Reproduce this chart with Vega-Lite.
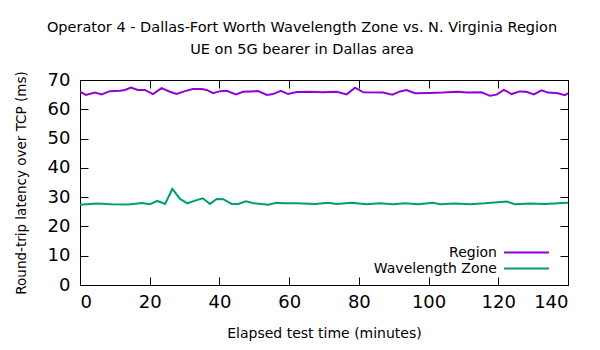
{
  "$schema": "https://vega.github.io/schema/vega-lite/v6.json",
  "autosize": "none",
  "width": 488,
  "height": 205,
  "padding": {"left": 80, "top": 80, "right": 32, "bottom": 65},
  "background": "white",
  "config": {
    "font": "DejaVu Sans",
    "view": {"stroke": "black", "strokeWidth": 1},
    "axis": {"grid": false, "domainColor": "black", "tickColor": "black", "labelColor": "black", "titleColor": "black", "labelFont": "DejaVu Sans", "titleFont": "DejaVu Sans", "titleFontWeight": "normal"}
  },
  "title": {
    "text": ["Operator 4 - Dallas-Fort Worth Wavelength Zone vs. N. Virginia Region", "UE on 5G bearer in Dallas area"],
    "font": "DejaVu Sans",
    "fontSize": 14.5,
    "fontWeight": "normal",
    "color": "black",
    "anchor": "middle",
    "dx": -22,
    "offset": 13,
    "lineHeight": 22
  },
  "data": {
    "values": [
      {"t": 0, "v": 66.0, "s": "Region"},
      {"t": 1.7, "v": 64.9, "s": "Region"},
      {"t": 4.3, "v": 65.7, "s": "Region"},
      {"t": 6.2, "v": 65.1, "s": "Region"},
      {"t": 8.6, "v": 66.2, "s": "Region"},
      {"t": 11.5, "v": 66.3, "s": "Region"},
      {"t": 12.9, "v": 66.6, "s": "Region"},
      {"t": 14.6, "v": 67.4, "s": "Region"},
      {"t": 16.6, "v": 66.6, "s": "Region"},
      {"t": 18.6, "v": 66.6, "s": "Region"},
      {"t": 20.9, "v": 65.2, "s": "Region"},
      {"t": 23.4, "v": 67.2, "s": "Region"},
      {"t": 25.8, "v": 66.0, "s": "Region"},
      {"t": 27.7, "v": 65.2, "s": "Region"},
      {"t": 30.1, "v": 66.2, "s": "Region"},
      {"t": 32.4, "v": 66.9, "s": "Region"},
      {"t": 34.9, "v": 66.9, "s": "Region"},
      {"t": 36.3, "v": 66.6, "s": "Region"},
      {"t": 38.2, "v": 65.5, "s": "Region"},
      {"t": 40.2, "v": 66.2, "s": "Region"},
      {"t": 42.1, "v": 66.3, "s": "Region"},
      {"t": 44.7, "v": 65.1, "s": "Region"},
      {"t": 46.8, "v": 66.0, "s": "Region"},
      {"t": 51.1, "v": 66.2, "s": "Region"},
      {"t": 53.6, "v": 64.9, "s": "Region"},
      {"t": 55.4, "v": 65.2, "s": "Region"},
      {"t": 57.6, "v": 66.3, "s": "Region"},
      {"t": 59.7, "v": 65.2, "s": "Region"},
      {"t": 62.2, "v": 65.9, "s": "Region"},
      {"t": 66.0, "v": 66.0, "s": "Region"},
      {"t": 69.7, "v": 65.8, "s": "Region"},
      {"t": 73.6, "v": 66.0, "s": "Region"},
      {"t": 76.5, "v": 65.1, "s": "Region"},
      {"t": 78.9, "v": 67.4, "s": "Region"},
      {"t": 81.3, "v": 65.8, "s": "Region"},
      {"t": 87.0, "v": 65.7, "s": "Region"},
      {"t": 89.6, "v": 65.0, "s": "Region"},
      {"t": 91.8, "v": 66.1, "s": "Region"},
      {"t": 93.7, "v": 66.6, "s": "Region"},
      {"t": 96.1, "v": 65.5, "s": "Region"},
      {"t": 100.4, "v": 65.6, "s": "Region"},
      {"t": 104.1, "v": 65.7, "s": "Region"},
      {"t": 108.5, "v": 66.0, "s": "Region"},
      {"t": 110.9, "v": 65.7, "s": "Region"},
      {"t": 115.2, "v": 65.8, "s": "Region"},
      {"t": 117.6, "v": 64.6, "s": "Region"},
      {"t": 119.5, "v": 65.0, "s": "Region"},
      {"t": 121.6, "v": 66.6, "s": "Region"},
      {"t": 123.8, "v": 65.2, "s": "Region"},
      {"t": 126.2, "v": 66.1, "s": "Region"},
      {"t": 128.1, "v": 66.0, "s": "Region"},
      {"t": 130.2, "v": 65.1, "s": "Region"},
      {"t": 132.4, "v": 66.5, "s": "Region"},
      {"t": 134.3, "v": 65.7, "s": "Region"},
      {"t": 137.1, "v": 65.5, "s": "Region"},
      {"t": 139.1, "v": 64.8, "s": "Region"},
      {"t": 140, "v": 65.5, "s": "Region"},
      {"t": 0, "v": 27.4, "s": "Wavelength Zone"},
      {"t": 4.8, "v": 27.8, "s": "Wavelength Zone"},
      {"t": 8.9, "v": 27.6, "s": "Wavelength Zone"},
      {"t": 13.8, "v": 27.5, "s": "Wavelength Zone"},
      {"t": 17.7, "v": 28.0, "s": "Wavelength Zone"},
      {"t": 20.1, "v": 27.6, "s": "Wavelength Zone"},
      {"t": 22.2, "v": 28.7, "s": "Wavelength Zone"},
      {"t": 24.4, "v": 27.7, "s": "Wavelength Zone"},
      {"t": 26.5, "v": 32.8, "s": "Wavelength Zone"},
      {"t": 28.7, "v": 29.4, "s": "Wavelength Zone"},
      {"t": 30.8, "v": 27.9, "s": "Wavelength Zone"},
      {"t": 33.0, "v": 28.8, "s": "Wavelength Zone"},
      {"t": 35.2, "v": 29.6, "s": "Wavelength Zone"},
      {"t": 37.3, "v": 27.7, "s": "Wavelength Zone"},
      {"t": 39.2, "v": 29.4, "s": "Wavelength Zone"},
      {"t": 41.1, "v": 29.3, "s": "Wavelength Zone"},
      {"t": 43.5, "v": 27.7, "s": "Wavelength Zone"},
      {"t": 45.4, "v": 27.7, "s": "Wavelength Zone"},
      {"t": 47.6, "v": 28.6, "s": "Wavelength Zone"},
      {"t": 49.7, "v": 27.9, "s": "Wavelength Zone"},
      {"t": 54.0, "v": 27.4, "s": "Wavelength Zone"},
      {"t": 56.4, "v": 28.1, "s": "Wavelength Zone"},
      {"t": 58.3, "v": 27.9, "s": "Wavelength Zone"},
      {"t": 62.2, "v": 27.9, "s": "Wavelength Zone"},
      {"t": 67.4, "v": 27.7, "s": "Wavelength Zone"},
      {"t": 71.2, "v": 28.1, "s": "Wavelength Zone"},
      {"t": 73.6, "v": 27.7, "s": "Wavelength Zone"},
      {"t": 77.9, "v": 28.1, "s": "Wavelength Zone"},
      {"t": 82.2, "v": 27.6, "s": "Wavelength Zone"},
      {"t": 86.1, "v": 27.9, "s": "Wavelength Zone"},
      {"t": 89.8, "v": 27.6, "s": "Wavelength Zone"},
      {"t": 93.2, "v": 27.9, "s": "Wavelength Zone"},
      {"t": 97.0, "v": 27.6, "s": "Wavelength Zone"},
      {"t": 101.3, "v": 28.1, "s": "Wavelength Zone"},
      {"t": 103.3, "v": 27.6, "s": "Wavelength Zone"},
      {"t": 107.6, "v": 27.8, "s": "Wavelength Zone"},
      {"t": 111.9, "v": 27.6, "s": "Wavelength Zone"},
      {"t": 116.2, "v": 27.9, "s": "Wavelength Zone"},
      {"t": 122.4, "v": 28.5, "s": "Wavelength Zone"},
      {"t": 124.8, "v": 27.6, "s": "Wavelength Zone"},
      {"t": 129.1, "v": 27.8, "s": "Wavelength Zone"},
      {"t": 133.4, "v": 27.7, "s": "Wavelength Zone"},
      {"t": 139.8, "v": 28.1, "s": "Wavelength Zone"},
      {"t": 140, "v": 28.1, "s": "Wavelength Zone"}
    ]
  },
  "layer": [
    {
      "mark": {"type": "line", "strokeWidth": 2, "clip": true},
      "encoding": {
        "x": {"field": "t", "type": "quantitative", "scale": {"domain": [0, 140], "nice": false, "zero": false},
          "axis": {"orient": "bottom", "values": [0, 20, 40, 60, 80, 100, 120, 140], "title": "Elapsed test time (minutes)", "tickSize": -8, "labelPadding": 16, "labelFontSize": 18, "titleFontSize": 14, "titlePadding": 15, "domain": false}},
        "y": {"field": "v", "type": "quantitative", "scale": {"domain": [0, 70], "nice": false, "zero": false},
          "axis": {"orient": "left", "values": [0, 10, 20, 30, 40, 50, 60, 70], "title": "Round-trip latency over TCP (ms)", "tickSize": -8, "labelPadding": 18, "labelFontSize": 18, "titleFontSize": 13.5, "titlePadding": 19, "domain": false}},
        "color": {"field": "s", "type": "nominal",
          "scale": {"domain": ["Region", "Wavelength Zone"], "range": ["#9400d3", "#009e73"]},
          "legend": {"title": null, "orient": "none", "legendX": 438, "legendY": 164, "symbolType": "M-3,0H3", "symbolSize": 225, "symbolStrokeWidth": 2, "labelAlign": "right", "labelOffset": -38, "labelFontSize": 14, "labelFont": "DejaVu Sans", "labelColor": "black", "rowPadding": 0}}
      }
    },
    {
      "mark": {"type": "line", "opacity": 0},
      "encoding": {
        "x": {"field": "t", "type": "quantitative", "axis": {"orient": "top", "values": [0, 20, 40, 60, 80, 100, 120, 140], "labels": false, "title": null, "tickSize": -8, "domain": false}},
        "y": {"field": "v", "type": "quantitative", "axis": {"orient": "right", "values": [0, 10, 20, 30, 40, 50, 60, 70], "labels": false, "title": null, "tickSize": -8, "domain": false}},
        "detail": {"field": "s"}
      }
    }
  ],
  "resolve": {"axis": {"x": "independent", "y": "independent"}}
}
